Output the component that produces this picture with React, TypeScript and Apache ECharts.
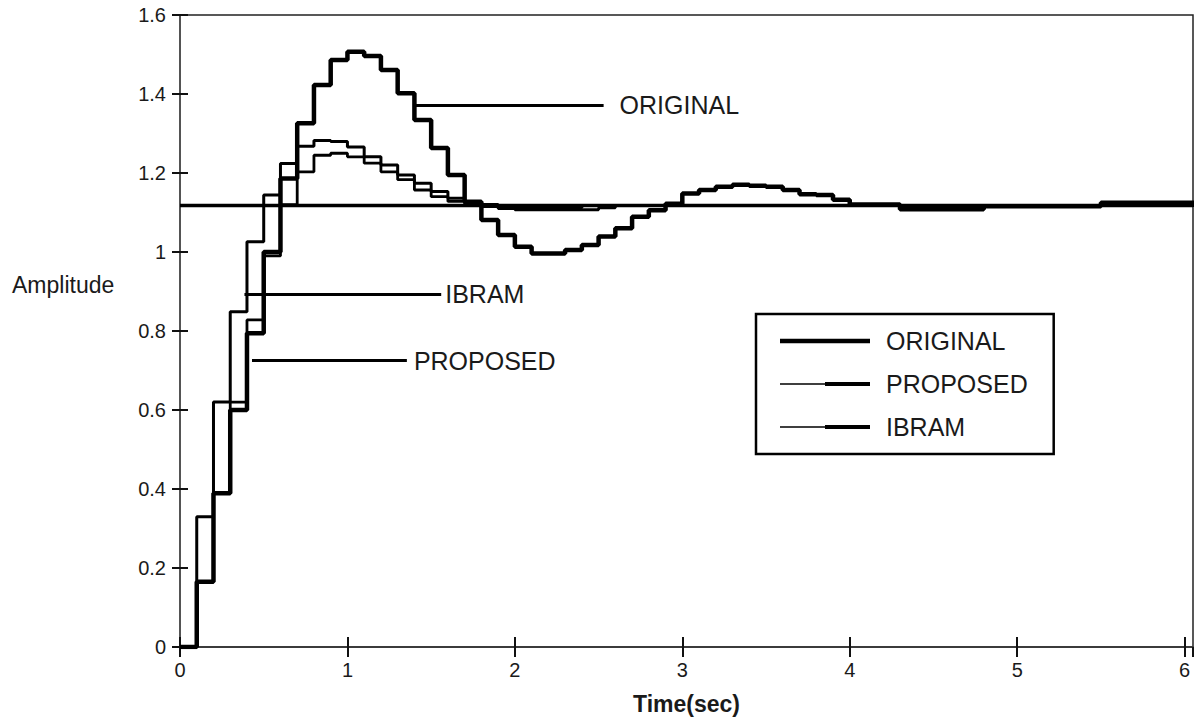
import React, { useEffect, useRef } from 'react';
import * as echarts from 'echarts';

// ---- data ----
const SAMPLE_TIME = 0.1; // sampling period of the discrete step responses (s)
const X_MIN = 0;
const X_MAX = 6.05;
const Y_MIN = 0;
const Y_MAX = 1.6;
const Y_STEP = 0.2;
const X_STEP = 1;

const SERIES_NAMES = ['ORIGINAL', 'PROPOSED', 'IBRAM'];

// values held over [k*T, (k+1)*T), k = 0..60
const ORIGINAL = [
  0, 0.165, 0.389, 0.600, 0.794, 1.000, 1.186, 1.326, 1.423, 1.486, 1.507,
  1.496, 1.461, 1.402, 1.334, 1.263, 1.195, 1.127, 1.081, 1.043, 1.013,
  0.996, 0.996, 1.005, 1.018, 1.039, 1.060, 1.089, 1.106, 1.122, 1.148,
  1.157, 1.165, 1.170, 1.168, 1.165, 1.157, 1.146, 1.144, 1.132, 1.120,
  1.120, 1.120, 1.108, 1.108, 1.108, 1.108, 1.108, 1.116, 1.116, 1.116,
  1.116, 1.116, 1.116, 1.116, 1.125, 1.125, 1.125, 1.125, 1.125, 1.125, 1.125,
];

const PROPOSED = [
  0, 0.165, 0.389, 0.620, 0.828, 0.990, 1.120, 1.203, 1.245, 1.250, 1.241,
  1.225, 1.203, 1.183, 1.157, 1.140, 1.128, 1.120, 1.115, 1.110, 1.107,
  1.107, 1.107, 1.107, 1.107, 1.112, 1.118, 1.118, 1.118, 1.118, 1.118,
  1.118, 1.118, 1.118, 1.118, 1.118, 1.118, 1.118, 1.118, 1.118, 1.118,
  1.118, 1.118, 1.118, 1.118, 1.118, 1.118, 1.118, 1.118, 1.118, 1.118,
  1.118, 1.118, 1.118, 1.118, 1.118, 1.118, 1.118, 1.118, 1.118, 1.118, 1.118,
];

const IBRAM = [
  0, 0.330, 0.620, 0.849, 1.026, 1.144, 1.224, 1.268, 1.282, 1.280, 1.266,
  1.241, 1.220, 1.195, 1.174, 1.153, 1.136, 1.125, 1.120, 1.115, 1.112,
  1.112, 1.112, 1.112, 1.118, 1.118, 1.118, 1.118, 1.118, 1.118, 1.118,
  1.118, 1.118, 1.118, 1.118, 1.118, 1.118, 1.118, 1.118, 1.118, 1.118,
  1.118, 1.118, 1.118, 1.118, 1.118, 1.118, 1.118, 1.118, 1.118, 1.118,
  1.118, 1.118, 1.118, 1.118, 1.118, 1.118, 1.118, 1.118, 1.118, 1.118, 1.118,
];

const STEADY_STATE = 1.118;

// annotation pointers: label, level, start time, end time
const ANNOTATION_LABELS = ['ORIGINAL', 'IBRAM', 'PROPOSED'];
const ANNOTATION_LEVELS = [1.372, 0.894, 0.725];
const ANNOTATION_FROM = [1.40, 0.385, 0.43];
const ANNOTATION_TO = [2.53, 1.56, 1.355];

const FONT = '"Liberation Sans", Arial, Helvetica, sans-serif';
const INK = '#1a1a1a';

// legend line glyphs (101 x 14 box, drawn part 0..90): ORIGINAL is one thick bar, the others thin then thick
const PAD = 'M0,-7h0.001v0.001h-0.001z M101,7h-0.001v-0.001h0.001z ';
const ICON_THICK = 'path://' + PAD + 'M0,-2.3H90V2.3H0Z';
const ICON_SPLIT = 'path://' + PAD + 'M0,-0.8H45V0.8H0Z M45,-2H90V2H45Z';

function toSteps(values: number[]): number[][] {
  const pts = values.map((v, i) => [Math.round(i * SAMPLE_TIME * 100) / 100, v]);
  pts.push([X_MAX, values[values.length - 1]]);
  return pts;
}

export default function App() {
  const ref = useRef<HTMLDivElement>(null);

  useEffect(() => {
    document.body.style.margin = '0';
    if (!ref.current) return;
    const chart = echarts.init(ref.current, undefined, { renderer: 'svg' });

    const intFormatter = (v: number) =>
      Math.abs(v - Math.round(v)) < 1e-9 ? String(Math.round(v)) : '';

    const lineWidths: Record<string, number> = { ORIGINAL: 4.5, PROPOSED: 2.8, IBRAM: 3 };
    const dataMap: Record<string, number[]> = { ORIGINAL, PROPOSED, IBRAM };
    const icons: Record<string, string> = { ORIGINAL: ICON_THICK, PROPOSED: ICON_SPLIT, IBRAM: ICON_SPLIT };

    const option: any = {
      animation: false,
      backgroundColor: '#ffffff',
      grid: {
        left: 180,
        right: 1,
        top: 15,
        bottom: 74,
        show: true,
        borderColor: '#222',
        borderWidth: 1.5,
        backgroundColor: 'transparent',
      },
      xAxis: [
        {
          type: 'value',
          min: X_MIN,
          max: X_MAX,
          interval: X_STEP,
          position: 'bottom',
          axisLine: { show: true, lineStyle: { color: '#555', width: 1.5 } },
          axisTick: { show: true, inside: true, length: 10, lineStyle: { color: '#111', width: 2 } },
          axisLabel: { fontSize: 20, color: INK, margin: 13, fontFamily: FONT, formatter: intFormatter, showMaxLabel: false },
          splitLine: { show: false },
          name: 'Time(sec)',
          nameLocation: 'middle',
          nameGap: 45,
          nameTextStyle: { fontSize: 23, fontWeight: 'bold', color: INK, fontFamily: FONT },
        },
        {
          type: 'value',
          min: X_MIN,
          max: X_MAX,
          interval: X_STEP,
          position: 'top',
          axisLine: { show: true, lineStyle: { color: '#333', width: 1.5 } },
          axisTick: { show: true, inside: true, length: 10, lineStyle: { color: '#111', width: 2 } },
          axisLabel: { show: false },
          splitLine: { show: false },
        },
      ],
      yAxis: [
        {
          type: 'value',
          min: Y_MIN,
          max: Y_MAX,
          interval: Y_STEP,
          position: 'left',
          axisLine: { show: true, lineStyle: { color: '#555', width: 1.5 } },
          axisTick: { show: true, inside: true, length: 8, lineStyle: { color: '#111', width: 2 } },
          axisLabel: { fontSize: 20, color: INK, margin: 14, fontFamily: FONT },
          splitLine: { show: false },
        },
        {
          type: 'value',
          min: Y_MIN,
          max: Y_MAX,
          interval: Y_STEP,
          position: 'right',
          axisLine: { show: true, lineStyle: { color: '#555', width: 1.5 } },
          axisTick: { show: true, inside: true, length: 8, lineStyle: { color: '#111', width: 2 } },
          axisLabel: { show: false },
          splitLine: { show: false },
        },
      ],
      legend: {
        orient: 'vertical',
        left: 756,
        top: 314,
        data: SERIES_NAMES.map((n) => ({ name: n, icon: icons[n] })),
        itemWidth: 101,
        itemHeight: 14,
        itemGap: 13,
        itemStyle: { color: '#000', borderWidth: 0 },
        padding: [12, 26, 12, 24],
        borderColor: '#000',
        borderWidth: 2.5,
        backgroundColor: '#ffffff',
        selectedMode: false,
        textStyle: { fontSize: 25, color: INK, fontFamily: FONT, lineHeight: 30 },
      },
      graphic: [
        {
          type: 'text',
          left: 12,
          top: 273,
          style: { text: 'Amplitude', fontSize: 23, fill: INK, fontFamily: FONT },
        },
      ],
      series: [
        {
          name: 'steady',
          type: 'line',
          xAxisIndex: 0,
          yAxisIndex: 0,
          data: [[X_MIN, STEADY_STATE], [X_MAX, STEADY_STATE]],
          showSymbol: false,
          symbol: 'none',
          lineStyle: { color: '#000', width: 3.5 },
          silent: true,
          markLine: {
            silent: true,
            symbol: ['none', 'none'],
            lineStyle: { color: '#000', width: 3, type: 'solid' },
            label: { show: true, position: 'end', formatter: '{b}', fontSize: 25, color: INK, fontFamily: FONT },
            data: ANNOTATION_LABELS.map((label, i) => [
              {
                name: label,
                coord: [ANNOTATION_FROM[i], ANNOTATION_LEVELS[i]],
                label: { distance: [16, 4, 7][i] },
              },
              { coord: [ANNOTATION_TO[i], ANNOTATION_LEVELS[i]] },
            ]),
          },
        },
        ...SERIES_NAMES.map((n) => ({
          name: n,
          type: 'line',
          xAxisIndex: 0,
          yAxisIndex: 0,
          step: 'end',
          data: toSteps(dataMap[n]),
          showSymbol: false,
          symbol: 'none',
          color: '#000',
          lineStyle: { color: '#000', width: lineWidths[n] },
        })),
      ],
    };

    chart.setOption(option);
    return () => chart.dispose();
  }, []);

  return <div ref={ref} style={{ width: 1194, height: 721 }} />;
}
